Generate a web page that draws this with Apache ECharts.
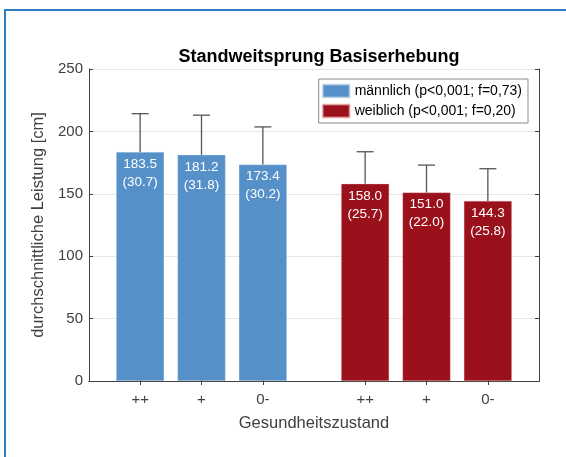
<!DOCTYPE html>
<html>
<head>
<meta charset="utf-8">
<script src="https://cdn.jsdelivr.net/npm/echarts@6/dist/echarts.min.js"></script>
<style>
html,body{margin:0;padding:0;background:#fff;}
#chart{width:566px;height:457px;}
</style>
</head>
<body>
<div id="chart"></div>
<script>
// ---- data ----
var groupLabels = ['++', '+', '0-'];
var maleName = 'männlich (p<0,001; f=0,73)';
var femaleName = 'weiblich (p<0,001; f=0,20)';
var maleMean = [183.5, 181.2, 173.4];
var maleSD = [30.7, 31.8, 30.2];
var femaleMean = [158.0, 151.0, 144.3];
var femaleSD = [25.7, 22.0, 25.8];
var yTicks = [0, 50, 100, 150, 200, 250];

// ---- layout (slot positions on a fine category axis) ----
var nSlots = 22;
var maleSlots = [2, 5, 8];
var femaleSlots = [13, 16, 19];

var axisCats = [];
for (var i = 0; i < nSlots; i++) axisCats.push('');
for (var j = 0; j < groupLabels.length; j++) {
  axisCats[maleSlots[j]] = groupLabels[j];
  axisCats[femaleSlots[j]] = groupLabels[j];
}
function slotData(slots, vals) {
  var d = [];
  for (var i = 0; i < nSlots; i++) d.push('-');
  for (var k = 0; k < slots.length; k++) d[slots[k]] = vals[k];
  return d;
}
var maleData = slotData(maleSlots, maleMean);
var femaleData = slotData(femaleSlots, femaleMean);
var sdMap = {};
for (var k = 0; k < 3; k++) { sdMap[maleSlots[k]] = maleSD[k]; sdMap[femaleSlots[k]] = femaleSD[k]; }

var errData = [];
for (var k = 0; k < 3; k++) errData.push([maleSlots[k], maleMean[k], maleSD[k]]);
for (var k = 0; k < 3; k++) errData.push([femaleSlots[k], femaleMean[k], femaleSD[k]]);

var FONT = '"Liberation Sans", Arial, sans-serif';
var AX = '#404040';
var blue = '#5690c8';
var red = '#9a111c';
var showIdx = function (idx, val) { return val !== ''; };

var labelFmt = function (p) {
  return p.value.toFixed(1) + '\n(' + sdMap[p.dataIndex].toFixed(1) + ')';
};

var chart = echarts.init(document.getElementById('chart'), null, {renderer: 'canvas'});
chart.setOption({
  animation: false,
  backgroundColor: '#fff',
  title: {
    text: 'Standweitsprung Basiserhebung',
    left: 314, top: 43, textAlign: 'center',
    textStyle: {fontFamily: FONT, fontSize: 18, fontWeight: 'bold', color: '#000'}
  },
  graphic: [{
    type: 'rect', shape: {x: 5, y: 10, width: 700, height: 600},
    style: {fill: 'none', stroke: '#2d7cc1', lineWidth: 2}, silent: true
  }],
  legend: {
    right: 38, top: 79, orient: 'vertical',
    icon: 'rect',
    itemWidth: 27, itemHeight: 13, itemGap: 4,
    padding: [4, 6, 4, 3],
    borderRadius: 0,
    borderColor: '#8a8a8a', borderWidth: 1, backgroundColor: '#fff',
    textStyle: {fontFamily: FONT, fontSize: 14, lineHeight: 16, color: '#000'},
    data: [maleName, femaleName]
  },
  grid: {left: 89, right: 27, top: 69, bottom: 76, containLabel: false},
  xAxis: [{
    type: 'category', data: axisCats, position: 'bottom',
    name: 'Gesundheitszustand', nameLocation: 'middle', nameGap: 34,
    nameTextStyle: {fontFamily: FONT, fontSize: 16.5, color: AX},
    axisLine: {lineStyle: {color: AX, width: 1}},
    axisTick: {show: true, inside: true, length: 4, interval: showIdx, alignWithLabel: true, lineStyle: {color: AX}},
    axisLabel: {interval: showIdx, fontFamily: FONT, fontSize: 15, color: AX, margin: 11},
    splitLine: {show: false}
  }, {
    type: 'category', data: axisCats, position: 'top',
    axisLine: {lineStyle: {color: AX, width: 1}},
    axisTick: {show: true, inside: true, length: 4, interval: showIdx, alignWithLabel: true, lineStyle: {color: AX}},
    axisLabel: {show: false}, splitLine: {show: false}
  }],
  yAxis: [{
    type: 'value', min: 0, max: 250, interval: 50, position: 'left',
    name: 'durchschnittliche Leistung [cm]', nameLocation: 'middle', nameGap: 35,
    nameTextStyle: {fontFamily: FONT, fontSize: 16.5, color: AX},
    axisLine: {show: true, lineStyle: {color: AX, width: 1}},
    axisTick: {show: true, inside: true, length: 4, lineStyle: {color: AX}},
    axisLabel: {fontFamily: FONT, fontSize: 15, color: AX, margin: 6,
      formatter: function (v) { return yTicks.indexOf(v) >= 0 ? String(v) : ''; }},
    splitLine: {show: true, lineStyle: {color: '#e6e6e6', width: 1}}
  }, {
    type: 'value', min: 0, max: 250, interval: 50, position: 'right',
    axisLine: {show: true, lineStyle: {color: AX, width: 1}},
    axisTick: {show: true, inside: true, length: 4, lineStyle: {color: AX}},
    axisLabel: {show: false}, splitLine: {show: false}
  }],
  series: [{
    name: maleName, type: 'bar', data: maleData, barWidth: 48, barGap: '-100%',
    itemStyle: {color: blue, borderColor: 'rgba(200,220,240,0.6)', borderWidth: 0.5},
    label: {show: true, position: 'insideTop', distance: 3, formatter: labelFmt,
      fontFamily: FONT, fontSize: 13.5, lineHeight: 18, color: '#fff'},
    z: 2
  }, {
    name: femaleName, type: 'bar', data: femaleData, barWidth: 48, barGap: '-100%',
    itemStyle: {color: red, borderColor: 'rgba(240,180,185,0.6)', borderWidth: 0.5},
    label: {show: true, position: 'insideTop', distance: 3, formatter: labelFmt,
      fontFamily: FONT, fontSize: 13.5, lineHeight: 18, color: '#fff'},
    z: 2
  }, {
    type: 'custom', data: errData, z: 5, silent: true,
    renderItem: function (params, api) {
      var x = api.value(0), m = api.value(1), s = api.value(2);
      var p0 = api.coord([x, m]);
      var p1 = api.coord([x, m + s]);
      var hw = 8.5;
      var st = {stroke: '#555', lineWidth: 1.3};
      return {type: 'group', children: [
        {type: 'line', shape: {x1: p0[0], y1: p0[1], x2: p1[0], y2: p1[1]}, style: st},
        {type: 'line', shape: {x1: p1[0] - hw, y1: p1[1], x2: p1[0] + hw, y2: p1[1]}, style: st}
      ]};
    }
  }]
});
</script>
</body>
</html>
